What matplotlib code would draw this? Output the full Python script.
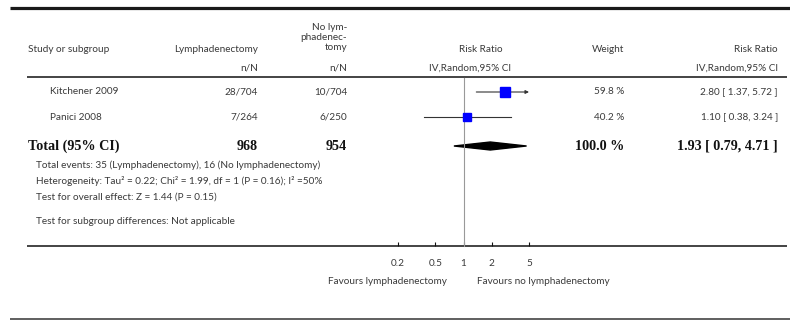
import matplotlib
matplotlib.use("Agg")
import matplotlib.pyplot as plt
from matplotlib.patches import Polygon
import numpy as np

# ---- data ----
studies = ["Kitchener 2009", "Panici 2008"]
exp_events = [28, 7]
exp_totals = [704, 264]
ctl_events = [10, 6]
ctl_totals = [704, 250]
weights = [59.8, 40.2]
rr = [2.80, 1.10]
rr_lo = [1.37, 0.38]
rr_hi = [5.72, 3.24]
total_exp = 968
total_ctl = 954
total_rr = 1.93
total_lo = 0.79
total_hi = 4.71
tick_vals = [0.2, 0.5, 1, 2, 5]
tick_labels = ["0.2", "0.5", "1", "2", "5"]
footer = [
    "Total events: 35 (Lymphadenectomy), 16 (No lymphadenectomy)",
    "Heterogeneity: Tau\u00b2 = 0.22; Chi\u00b2 = 1.99, df = 1 (P = 0.16); I\u00b2 =50%",
    "Test for overall effect: Z = 1.44 (P = 0.15)",
    "Test for subgroup differences: Not applicable",
]

W, H = 790, 320
fig = plt.figure(figsize=(W / 100, H / 100), dpi=100)
ax = fig.add_axes([0, 0, 1, 1])
ax.set_xlim(0, W)
ax.set_ylim(H, 0)
ax.axis("off")

SANS = "Lato"
SERIF = "Liberation Serif"
TC = "#3a3a3a"
FS = 7.2

def t(x, y, s, ha="left", **kw):
    kw.setdefault("fontsize", FS)
    kw.setdefault("family", SANS)
    kw.setdefault("color", TC)
    ax.text(x, y, s, ha=ha, va="center", **kw)

# rules
ax.plot([10, 790], [8, 8], color="#1a1a1a", lw=2.3, solid_capstyle="butt")
ax.plot([27, 787], [77, 77], color="#111111", lw=1.1, solid_capstyle="butt")
ax.plot([27, 787], [246, 246], color="#111111", lw=1.1, solid_capstyle="butt")
ax.plot([10, 790], [319, 319], color="#444444", lw=1.2, solid_capstyle="butt")

# headers
C_EXP, C_CTL, C_W, C_RR = 258, 347, 624, 778
t(28, 50, "Study or subgroup")
t(C_EXP, 50, "Lymphadenectomy", ha="right")
t(C_CTL, 27, "No lym-", ha="right")
t(C_CTL, 37.5, "phadenec-", ha="right")
t(C_CTL, 48, "tomy", ha="right")
t(C_EXP, 68, "n/N", ha="right")
t(C_CTL, 68, "n/N", ha="right")
t(503, 50, "Risk Ratio", ha="right")
t(511, 68, "IV,Random,95% CI", ha="right")
t(C_W, 50, "Weight", ha="right")
t(C_RR, 50, "Risk Ratio", ha="right")
t(C_RR, 68, "IV,Random,95% CI", ha="right")

row_y = [92, 117]
for i, s in enumerate(studies):
    y = row_y[i]
    t(50, y, s)
    t(C_EXP, y, f"{exp_events[i]}/{exp_totals[i]}", ha="right")
    t(C_CTL, y, f"{ctl_events[i]}/{ctl_totals[i]}", ha="right")
    t(C_W, y, f"{weights[i]:.1f} %", ha="right")
    t(C_RR, y, f"{rr[i]:.2f} [ {rr_lo[i]:.2f}, {rr_hi[i]:.2f} ]", ha="right")

ty = 146
bk = dict(family=SERIF, fontweight="bold", fontsize=10.2, color="#111111")
t(28, ty, "Total (95% CI)", **bk)
t(C_EXP, ty, f"{total_exp}", ha="right", **bk)
t(C_CTL, ty, f"{total_ctl}", ha="right", **bk)
t(C_W, ty, f"{sum(weights):.1f} %", ha="right", **bk)
t(C_RR, ty, f"{total_rr:.2f} [ {total_lo:.2f}, {total_hi:.2f} ]", ha="right", **bk)

for y, s in zip([165, 181, 197, 222], footer):
    t(36, y, s)

t(447, 282, "Favours lymphadenectomy", ha="right")
t(477, 282, "Favours no lymphadenectomy", ha="left")

# forest plot axes (log scale)
X0, X1 = 398, 529
Y0, Y1 = 78, 246
fa = fig.add_axes([X0 / W, (H - Y1) / H, (X1 - X0) / W, (Y1 - Y0) / H])
fa.set_xscale("log")
fa.set_xlim(tick_vals[0], tick_vals[-1])
fa.set_ylim(Y1, Y0)
fa.patch.set_alpha(0)
for sp in fa.spines.values():
    sp.set_visible(False)
fa.set_yticks([])
fa.minorticks_off()
fa.set_xticks(tick_vals)
fa.set_xticklabels(tick_labels, family=SANS, fontsize=FS, color=TC)
fa.tick_params(axis="x", direction="in", length=3, width=0.8, pad=9, color="#111111")

fa.plot([1, 1], [Y0, Y1], color="#999999", lw=0.8, clip_on=False)

xmax = tick_vals[-1]
for i in range(len(studies)):
    y = row_y[i]
    hi = min(rr_hi[i], xmax)
    if rr_hi[i] > xmax:
        fa.annotate("", xy=(hi, y), xytext=(rr_lo[i], y),
                    arrowprops=dict(arrowstyle="-|>", lw=0.8, color="#333333",
                                    mutation_scale=5, shrinkA=0, shrinkB=0))
    else:
        fa.plot([rr_lo[i], hi], [y, y], color="#333333", lw=0.8)
    ms = 9.3 * np.sqrt(weights[i] / 100)
    fa.plot([rr[i]], [y], marker="s", ms=ms, color="#0000ff", mec="#0000ff", zorder=3)

dh = 4
fa.add_patch(Polygon([[total_lo, ty], [total_rr, ty - dh], [total_hi, ty], [total_rr, ty + dh]],
                     closed=True, color="black"))

fig.savefig("out.png", dpi=100)
